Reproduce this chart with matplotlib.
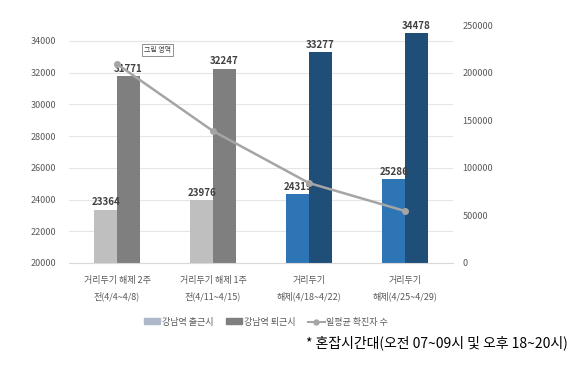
import matplotlib
matplotlib.use("Agg")
import matplotlib.pyplot as plt
import numpy as np
from matplotlib.lines import Line2D
from matplotlib.patches import Patch

plt.rcParams['font.family'] = ['Noto Sans CJK KR', 'DejaVu Sans']

# data
categories = ["거리두기 해제 2주\n전(4/4~4/8)", "거리두기 해제 1주\n전(4/11~4/15)",
              "거리두기\n해제(4/18~4/22)", "거리두기\n해제(4/25~4/29)"]
morning = [23364, 23976, 24319, 25286]
evening = [31771, 32247, 33277, 34478]
daily_cases = [209000, 138600, 84000, 54600]

morning_colors = ["#BFBFBF", "#BFBFBF", "#2E75B6", "#2E75B6"]
evening_colors = ["#7F7F7F", "#7F7F7F", "#1F4E79", "#1F4E79"]

fig = plt.figure(figsize=(5.8, 3.71), dpi=100)
ax = fig.add_axes([69 / 580, 1 - 263 / 371, 384 / 580, 238 / 371])

x = np.arange(len(categories))
w = 0.235
ax.bar(x - w / 2, np.array(morning) - 20000, w, bottom=20000, color=morning_colors)
ax.bar(x + w / 2, np.array(evening) - 20000, w, bottom=20000, color=evening_colors)

for xi, v in zip(x, morning):
    ax.text(xi - w / 2, v + 150, str(v), ha='center', va='bottom', fontsize=7,
            fontweight='bold', color='#404040')
for xi, v in zip(x, evening):
    ax.text(xi + w / 2, v + 150, str(v), ha='center', va='bottom', fontsize=7,
            fontweight='bold', color='#404040')

ax.set_xlim(-0.5, len(categories) - 0.5)
ax.set_ylim(20000, 35000)
ax.set_yticks(range(20000, 34001, 2000))
ax.grid(axis='y', color='#E6E6E6', linewidth=0.8)
ax.set_axisbelow(True)
for s in ax.spines.values():
    s.set_visible(False)
ax.spines['bottom'].set_visible(True)
ax.spines['bottom'].set_color('#D9D9D9')
ax.tick_params(axis='both', length=0, labelsize=6.5, colors='#595959')
ax.tick_params(axis='y', pad=9)
ax.set_xticks(x)
ax.set_xticklabels(categories, fontsize=6.5, color='#595959', linespacing=1.9)
ax.tick_params(axis='x', pad=9)

ax2 = ax.twinx()
ax2.plot(x, daily_cases, color='#A5A5A5', linewidth=1.8, marker='o', markersize=4)
ax2.set_ylim(0, 250000)
ax2.set_yticks(range(0, 250001, 50000))
for s in ax2.spines.values():
    s.set_visible(False)
ax2.tick_params(axis='y', length=0, labelsize=6.5, colors='#595959', pad=7)

# tooltip artifact
ax.text(0.42, 33450, "그림 영역", fontsize=5, color='#404040', ha='center', va='center',
        bbox=dict(boxstyle='square,pad=0.3', fc='white', ec='#808080', lw=0.6))

handles = [Patch(color='#ADB9CA'), Patch(color='#7F7F7F'),
           Line2D([], [], color='#A5A5A5', marker='o', markersize=3.5, linewidth=1.5)]
labels = ["강남역 출근시", "강남역 퇴근시", "일평균 확진자 수"]
fig.legend(handles, labels, loc='center', bbox_to_anchor=(266 / 580, 1 - 322 / 371),
           ncol=3, frameon=False, fontsize=6.5, handlelength=1.8, handleheight=0.6,
           columnspacing=1.4, handletextpad=0.2, labelcolor='#595959')

fig.text(568 / 580, 1 - 343 / 371, "* 혼잡시간대(오전 07~09시 및 오후 18~20시)",
         ha='right', va='center', fontsize=10, color='black')

fig.savefig("out.png", dpi=100)
